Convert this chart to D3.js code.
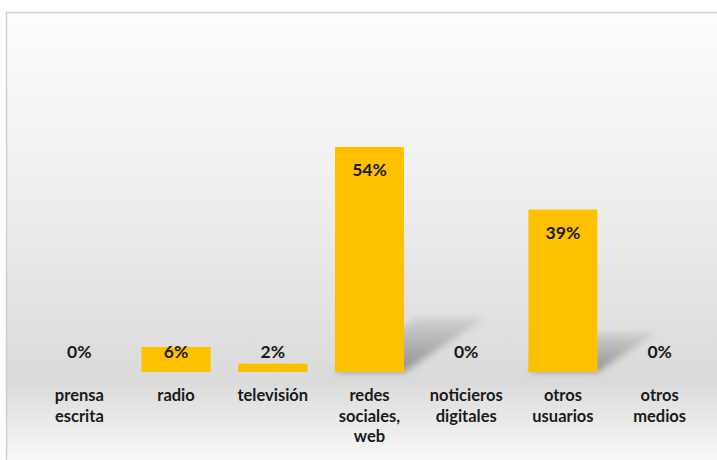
<!DOCTYPE html>
<html>
<head>
<meta charset="utf-8">
<script src="https://cdn.jsdelivr.net/npm/d3@7"></script>
<style>
  html, body { margin: 0; padding: 0; background: #fff; }
  svg { display: block; font-family: Lato, "Open Sans", sans-serif; }
</style>
</head>
<body>
<svg id="chart" width="717" height="460"></svg>
<script>
// datos
var categories = ["prensa escrita", "radio", "televisión", "redes sociales, web", "noticieros digitales", "otros usuarios", "otros medios"];
var values = [0, 6, 2, 54, 0, 39, 0];
var valueLabels = ["0%", "6%", "2%", "54%", "0%", "39%", "0%"];

var svg = d3.select("#chart");
var defs = svg.append("defs");

// fondo con degradado
var bg = defs.append("linearGradient").attr("id", "bgGrad")
  .attr("x1", 0).attr("y1", 0).attr("x2", 0).attr("y2", 1);
bg.append("stop").attr("offset", "0%").attr("stop-color", "#fdfdfd");
bg.append("stop").attr("offset", "45%").attr("stop-color", "#ececec");
bg.append("stop").attr("offset", "80%").attr("stop-color", "#dadada");
bg.append("stop").attr("offset", "100%").attr("stop-color", "#fdfdfd");

svg.append("rect")
  .attr("x", 6.5).attr("y", 12.5)
  .attr("width", 720).attr("height", 460)
  .attr("fill", "url(#bgGrad)")
  .attr("stroke", "#d0d0d0")
  .attr("stroke-width", 1.5);

// sombra
var blur = defs.append("filter").attr("id", "blur")
  .attr("x", "-30%").attr("y", "-30%").attr("width", "160%").attr("height", "160%");
blur.append("feGaussianBlur").attr("stdDeviation", 3.5);

var shGrad = defs.append("linearGradient").attr("id", "shGrad")
  .attr("x1", 0).attr("y1", 1).attr("x2", 0).attr("y2", 0);
shGrad.append("stop").attr("offset", "0%").attr("stop-color", "#808080").attr("stop-opacity", 0.85);
shGrad.append("stop").attr("offset", "100%").attr("stop-color", "#999").attr("stop-opacity", 0.25);

// escalas
var x = d3.scaleBand()
  .domain(categories)
  .range([31, 708])
  .paddingInner(0.286)
  .paddingOuter(0.143);

var y = d3.scaleLinear()
  .domain([0, 60])
  .range([372, 122]);

var data = categories.map(function(c, i) {
  return { cat: c, value: values[i], label: valueLabels[i] };
});

var base = y(0);

// sombras en perspectiva
svg.append("g").selectAll("path")
  .data(data.filter(function(d) { return d.value > 10; }))
  .join("path")
  .attr("fill", "url(#shGrad)")
  .attr("filter", "url(#blur)")
  .attr("d", function(d) {
    var h = base - y(d.value);
    var x0 = x(d.cat), x1 = x0 + x.bandwidth();
    var dx = h * 0.36, dy = h * 0.24;
    return "M" + x0 + "," + base + "L" + x1 + "," + base +
      "L" + (x1 + dx) + "," + (base - dy) + "L" + (x0 + dx) + "," + (base - dy) + "Z";
  });

// barras
svg.append("g").selectAll("rect")
  .data(data)
  .join("rect")
  .attr("x", function(d) { return x(d.cat); })
  .attr("y", function(d) { return y(d.value); })
  .attr("width", x.bandwidth())
  .attr("height", function(d) { return base - y(d.value); })
  .attr("fill", "#ffc000");

// etiquetas de valor
svg.append("g").selectAll("text")
  .data(data)
  .join("text")
  .attr("x", function(d) { return x(d.cat) + x.bandwidth() / 2; })
  .attr("y", function(d) { return Math.min(y(d.value) + 29, base - 14); })
  .attr("text-anchor", "middle")
  .attr("font-size", 17.5)
  .attr("font-weight", "bold")
  .attr("fill", "#1a1a1a")
  .text(function(d) { return d.label; });

// eje x
var axis = svg.append("g")
  .attr("transform", "translate(0," + base + ")")
  .call(d3.axisBottom(x).tickSize(0));
axis.select(".domain").remove();
axis.selectAll(".tick text")
  .attr("font-size", 16.5)
  .attr("font-weight", "bold")
  .attr("font-family", "Lato, 'Open Sans', sans-serif")
  .attr("fill", "#1a1a1a")
  .each(function(d) {
    var t = d3.select(this).text(null).attr("y", 0).attr("dy", null);
    d.split(" ").forEach(function(w, i) {
      t.append("tspan").attr("x", 0).attr("y", 29 + i * 20.5).text(w);
    });
  });
</script>
</body>
</html>
